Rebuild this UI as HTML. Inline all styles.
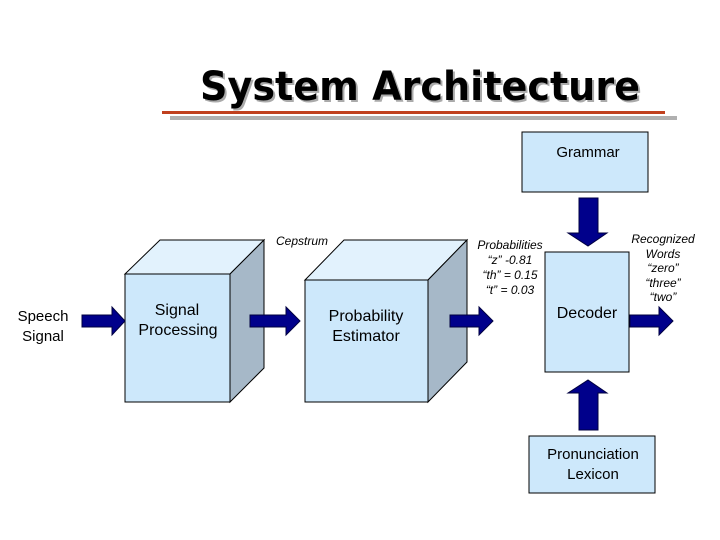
<!DOCTYPE html>
<html><head><style>
body{margin:0;background:#fff;}
svg{display:block}
text{font-family:"Liberation Sans",Arial,sans-serif}
</style></head><body>
<svg width="720" height="540" viewBox="0 0 720 540" xmlns="http://www.w3.org/2000/svg">
<text x="420" y="100" text-anchor="middle" font-family="DejaVu Sans" font-weight="bold" font-size="40" fill="#aaa" transform="translate(2,2)" textLength="440" lengthAdjust="spacingAndGlyphs" style="font-family:'DejaVu Sans',sans-serif">System Architecture</text>
<text x="420" y="100" text-anchor="middle" font-weight="bold" font-size="40" fill="#000" textLength="440" lengthAdjust="spacingAndGlyphs" style="font-family:'DejaVu Sans',sans-serif">System Architecture</text>
<rect x="162" y="111" width="503" height="3" fill="#c0401e"/>
<rect x="170" y="116" width="507" height="4" fill="#b0b0b0"/>

<!-- cube 1 -->
<polygon points="125,274 160,240 264,240 230,274" fill="#e2f2fd" stroke="#000"/>
<polygon points="230,274 264,240 264,368 230,402" fill="#a6b8c8" stroke="#000"/>
<rect x="125" y="274" width="105" height="128" fill="#cde8fb" stroke="#000"/>
<text x="177" y="315" text-anchor="middle" font-size="16" >Signal</text>
<text x="178" y="335" text-anchor="middle" font-size="16">Processing</text>

<!-- cube 2 -->
<polygon points="305,280 344,240 467,240 428,280" fill="#e2f2fd" stroke="#000"/>
<polygon points="428,280 467,240 467,362 428,402" fill="#a6b8c8" stroke="#000"/>
<rect x="305" y="280" width="123" height="122" fill="#cde8fb" stroke="#000"/>
<text x="366" y="321" text-anchor="middle" font-size="16">Probability</text>
<text x="366" y="341" text-anchor="middle" font-size="16">Estimator</text>

<!-- boxes -->
<rect x="522" y="132" width="126" height="60" fill="#cde8fb" stroke="#000"/>
<text x="588" y="157" text-anchor="middle" font-size="15">Grammar</text>
<rect x="545" y="252" width="84" height="120" fill="#cde8fb" stroke="#000"/>
<text x="587" y="318" text-anchor="middle" font-size="16">Decoder</text>
<rect x="529" y="436" width="126" height="57" fill="#cde8fb" stroke="#000"/>
<text x="593" y="459" text-anchor="middle" font-size="15">Pronunciation</text>
<text x="593" y="479" text-anchor="middle" font-size="15">Lexicon</text>

<text x="43" y="321" text-anchor="middle" font-size="15">Speech</text>
<text x="43" y="341" text-anchor="middle" font-size="15">Signal</text>

<g font-style="italic" font-size="12" text-anchor="middle">
<text x="302" y="245">Cepstrum</text>
<text x="510" y="249">Probabilities</text>
<text x="510" y="264">“z” -0.81</text>
<text x="510" y="279">“th” = 0.15</text>
<text x="510" y="294">“t” = 0.03</text>
<text x="663" y="243">Recognized</text>
<text x="663" y="258">Words</text>
<text x="663" y="272">“zero”</text>
<text x="663" y="287">“three”</text>
<text x="663" y="301">“two”</text>
</g>

<g fill="#00008b" stroke="#000040" stroke-width="1">
<polygon points="82,315 112,315 112,307 125,321 112,335 112,327 82,327"/>
<polygon points="250,315 286,315 286,307 300,321 286,335 286,327 250,327"/>
<polygon points="450,315 479,315 479,307 493,321 479,335 479,327 450,327"/>
<polygon points="630,315 659,315 659,307 673,321 659,335 659,327 630,327"/>
<polygon points="579,198 598,198 598,233 607,233 588,246 568,233 579,233"/>
<polygon points="579,430 598,430 598,393 607,393 588,380 568,393 579,393"/>
</g>
</svg>
</body></html>
